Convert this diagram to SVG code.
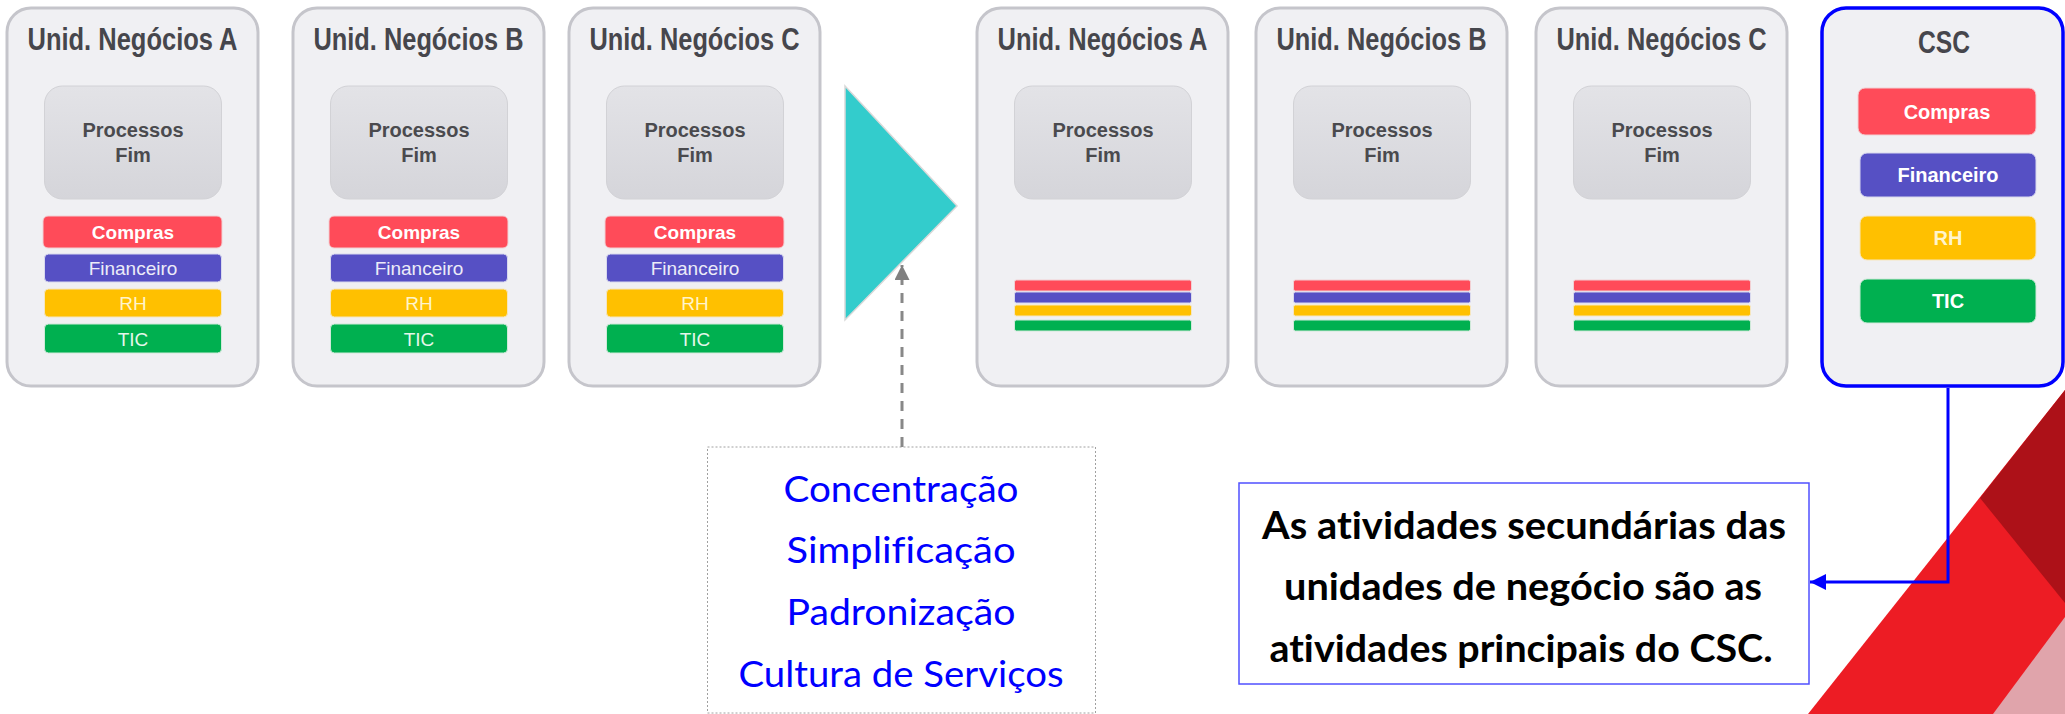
<svg xmlns="http://www.w3.org/2000/svg" width="2065" height="714" viewBox="0 0 2065 714">
<defs>
<linearGradient id="pg" x1="0" y1="0" x2="0" y2="1">
<stop offset="0" stop-color="#e3e3e7"/>
<stop offset="1" stop-color="#d5d5da"/>
</linearGradient>
<marker id="ab" markerWidth="16" markerHeight="16" refX="16" refY="8" orient="auto" markerUnits="userSpaceOnUse">
<path d="M0,0 L16,8 L0,16 Z" fill="#0000ff"/>
</marker>
<marker id="ag" markerWidth="16" markerHeight="15" refX="15" refY="7.5" orient="auto" markerUnits="userSpaceOnUse">
<path d="M0,0 L15,7.5 L0,15 Z" fill="#808080"/>
</marker>
</defs>
<style>
.unit{fill:#f0f0f3;stroke:#c5c5cb;stroke-width:3}
.csc{fill:#f0f0f3;stroke:#0000ff;stroke-width:3.5}
.title{font-family:"Liberation Sans",Arial,sans-serif;font-weight:bold;font-size:31px;fill:#46464c;text-anchor:middle}
.proc{fill:url(#pg);stroke:#d2d2d6;stroke-width:1}
.ptxt{font-family:"Liberation Sans",Arial,sans-serif;font-weight:bold;font-size:20px;fill:#4a4a4e;text-anchor:middle}
.c{fill:#ff4b59;stroke:#f2d0d3;stroke-width:1}
.f{fill:#5650c4;stroke:#d8d8ee;stroke-width:1}
.r{fill:#ffc000;stroke:#f5e6c0;stroke-width:1}
.t{fill:#00b050;stroke:#cfe9d9;stroke-width:1}
.bt{font-family:"Liberation Sans",Arial,sans-serif;font-size:19px;text-anchor:middle}
.bb{font-weight:bold;fill:#ffffff}
.fw{fill:#ececf8}
.rw{fill:#fff4cc}
.tw{fill:#e4f6ea}
.cb{font-family:"Liberation Sans",Arial,sans-serif;font-size:20px;font-weight:bold;text-anchor:middle}
.blue{font-family:Lato,"Open Sans",sans-serif;font-size:36px;fill:#0000ff;text-anchor:middle;font-variant-ligatures:none}
.blk{font-family:Lato,"Open Sans",sans-serif;font-weight:bold;font-size:38px;fill:#000000;text-anchor:middle;font-variant-ligatures:none}
</style>

<rect width="2065" height="714" fill="#ffffff"/>

<!-- decoration -->
<polygon points="1808,714 2065,390 2065,714" fill="#ed1c24"/>
<polygon points="1980,498 2065,390 2065,603" fill="#ad1118"/>
<polygon points="2065,617 1993,714 2065,714" fill="#e0a4ab"/>

<!-- left units -->
<g id="ua1" transform="translate(7,8)">
<rect class="unit" x="0" y="0" width="251" height="378" rx="24"/>
<text class="title" x="125.5" y="42" textLength="210" lengthAdjust="spacingAndGlyphs">Unid. Negócios A</text>
<rect class="proc" x="37.5" y="78" width="177" height="113" rx="18"/>
<text class="ptxt" x="126" y="129">Processos</text>
<text class="ptxt" x="126" y="154">Fim</text>
<rect class="c" x="36" y="208" width="179" height="32" rx="5"/>
<text class="bt bb" x="126" y="231">Compras</text>
<rect class="f" x="37.5" y="246" width="177" height="28" rx="4"/>
<text class="bt fw" x="126" y="267">Financeiro</text>
<rect class="r" x="37.5" y="281" width="177" height="28" rx="4"/>
<text class="bt rw" x="126" y="302">RH</text>
<rect class="t" x="37.5" y="316" width="177" height="29" rx="4"/>
<text class="bt tw" x="126" y="338">TIC</text>
</g>

<g id="ub1" transform="translate(293,8)">
<rect class="unit" x="0" y="0" width="251" height="378" rx="24"/>
<text class="title" x="125.5" y="42" textLength="210" lengthAdjust="spacingAndGlyphs">Unid. Negócios B</text>
<rect class="proc" x="37.5" y="78" width="177" height="113" rx="18"/>
<text class="ptxt" x="126" y="129">Processos</text>
<text class="ptxt" x="126" y="154">Fim</text>
<rect class="c" x="36" y="208" width="179" height="32" rx="5"/>
<text class="bt bb" x="126" y="231">Compras</text>
<rect class="f" x="37.5" y="246" width="177" height="28" rx="4"/>
<text class="bt fw" x="126" y="267">Financeiro</text>
<rect class="r" x="37.5" y="281" width="177" height="28" rx="4"/>
<text class="bt rw" x="126" y="302">RH</text>
<rect class="t" x="37.5" y="316" width="177" height="29" rx="4"/>
<text class="bt tw" x="126" y="338">TIC</text>
</g>

<g id="uc1" transform="translate(569,8)">
<rect class="unit" x="0" y="0" width="251" height="378" rx="24"/>
<text class="title" x="125.5" y="42" textLength="210" lengthAdjust="spacingAndGlyphs">Unid. Negócios C</text>
<rect class="proc" x="37.5" y="78" width="177" height="113" rx="18"/>
<text class="ptxt" x="126" y="129">Processos</text>
<text class="ptxt" x="126" y="154">Fim</text>
<rect class="c" x="36" y="208" width="179" height="32" rx="5"/>
<text class="bt bb" x="126" y="231">Compras</text>
<rect class="f" x="37.5" y="246" width="177" height="28" rx="4"/>
<text class="bt fw" x="126" y="267">Financeiro</text>
<rect class="r" x="37.5" y="281" width="177" height="28" rx="4"/>
<text class="bt rw" x="126" y="302">RH</text>
<rect class="t" x="37.5" y="316" width="177" height="29" rx="4"/>
<text class="bt tw" x="126" y="338">TIC</text>
</g>

<!-- transformation arrow -->
<g id="transform-arrow">
<polygon points="845,86 957,206 845,320" fill="#33cccc" stroke="#d9d9d9" stroke-width="1.5"/>
</g>

<!-- right units -->
<g id="ua2" transform="translate(977,8)">
<rect class="unit" x="0" y="0" width="251" height="378" rx="24"/>
<text class="title" x="125.5" y="42" textLength="210" lengthAdjust="spacingAndGlyphs">Unid. Negócios A</text>
<rect class="proc" x="37.5" y="78" width="177" height="113" rx="18"/>
<text class="ptxt" x="126" y="129">Processos</text>
<text class="ptxt" x="126" y="154">Fim</text>
<rect class="c" x="37.5" y="272" width="177" height="11" rx="2"/>
<rect class="f" x="37.5" y="284" width="177" height="11" rx="2"/>
<rect class="r" x="37.5" y="297" width="177" height="11" rx="2"/>
<rect class="t" x="37.5" y="312" width="177" height="11" rx="2"/>
</g>

<g id="ub2" transform="translate(1256,8)">
<rect class="unit" x="0" y="0" width="251" height="378" rx="24"/>
<text class="title" x="125.5" y="42" textLength="210" lengthAdjust="spacingAndGlyphs">Unid. Negócios B</text>
<rect class="proc" x="37.5" y="78" width="177" height="113" rx="18"/>
<text class="ptxt" x="126" y="129">Processos</text>
<text class="ptxt" x="126" y="154">Fim</text>
<rect class="c" x="37.5" y="272" width="177" height="11" rx="2"/>
<rect class="f" x="37.5" y="284" width="177" height="11" rx="2"/>
<rect class="r" x="37.5" y="297" width="177" height="11" rx="2"/>
<rect class="t" x="37.5" y="312" width="177" height="11" rx="2"/>
</g>

<g id="uc2" transform="translate(1536,8)">
<rect class="unit" x="0" y="0" width="251" height="378" rx="24"/>
<text class="title" x="125.5" y="42" textLength="210" lengthAdjust="spacingAndGlyphs">Unid. Negócios C</text>
<rect class="proc" x="37.5" y="78" width="177" height="113" rx="18"/>
<text class="ptxt" x="126" y="129">Processos</text>
<text class="ptxt" x="126" y="154">Fim</text>
<rect class="c" x="37.5" y="272" width="177" height="11" rx="2"/>
<rect class="f" x="37.5" y="284" width="177" height="11" rx="2"/>
<rect class="r" x="37.5" y="297" width="177" height="11" rx="2"/>
<rect class="t" x="37.5" y="312" width="177" height="11" rx="2"/>
</g>

<!-- CSC -->
<g id="csc">
<rect class="csc" x="1822" y="8" width="241" height="378" rx="24"/>
<text class="title" x="1944" y="53" textLength="52" lengthAdjust="spacingAndGlyphs">CSC</text>
<rect class="c" x="1858" y="88" width="178" height="47" rx="7"/>
<text class="cb" x="1947" y="119" fill="#ffffff">Compras</text>
<rect class="f" x="1860" y="153" width="176" height="44" rx="7"/>
<text class="cb" x="1948" y="182" fill="#ffffff">Financeiro</text>
<rect class="r" x="1860" y="216" width="176" height="44" rx="7"/>
<text class="cb" x="1948" y="245" fill="#fff4cc">RH</text>
<rect class="t" x="1860" y="279" width="176" height="44" rx="7"/>
<text class="cb" x="1948" y="308" fill="#ffffff">TIC</text>
</g>

<!-- principles box -->
<g id="principles">
<rect x="707.5" y="447" width="388" height="266" fill="#ffffff" stroke="#a0a0a0" stroke-width="1" stroke-dasharray="2,2"/>
<text class="blue" x="901" y="502" textLength="235" lengthAdjust="spacingAndGlyphs">Concentração</text>
<text class="blue" x="901" y="563" textLength="229" lengthAdjust="spacingAndGlyphs">Simplificação</text>
<text class="blue" x="901" y="625" textLength="229" lengthAdjust="spacingAndGlyphs">Padronização</text>
<text class="blue" x="901" y="687" textLength="325" lengthAdjust="spacingAndGlyphs">Cultura de Serviços</text>
</g>

<!-- note box -->
<g id="note">
<rect x="1239" y="483" width="570" height="201" fill="#ffffff" stroke="#5050ff" stroke-width="1.5"/>
<text class="blk" x="1524" y="539" textLength="524" lengthAdjust="spacingAndGlyphs">As atividades secundárias das</text>
<text class="blk" x="1523" y="600" textLength="478" lengthAdjust="spacingAndGlyphs">unidades de negócio são as</text>
<text class="blk" x="1521" y="662" textLength="503" lengthAdjust="spacingAndGlyphs">atividades principais do CSC.</text>
</g>

<!-- connectors -->
<g id="connectors">
<path d="M902,447 V265" fill="none" stroke="#888888" stroke-width="3" stroke-dasharray="10,8" marker-end="url(#ag)"/>
<path d="M1948,388 V582 H1810" fill="none" stroke="#0000ff" stroke-width="3" marker-end="url(#ab)"/>
</g>
</svg>
